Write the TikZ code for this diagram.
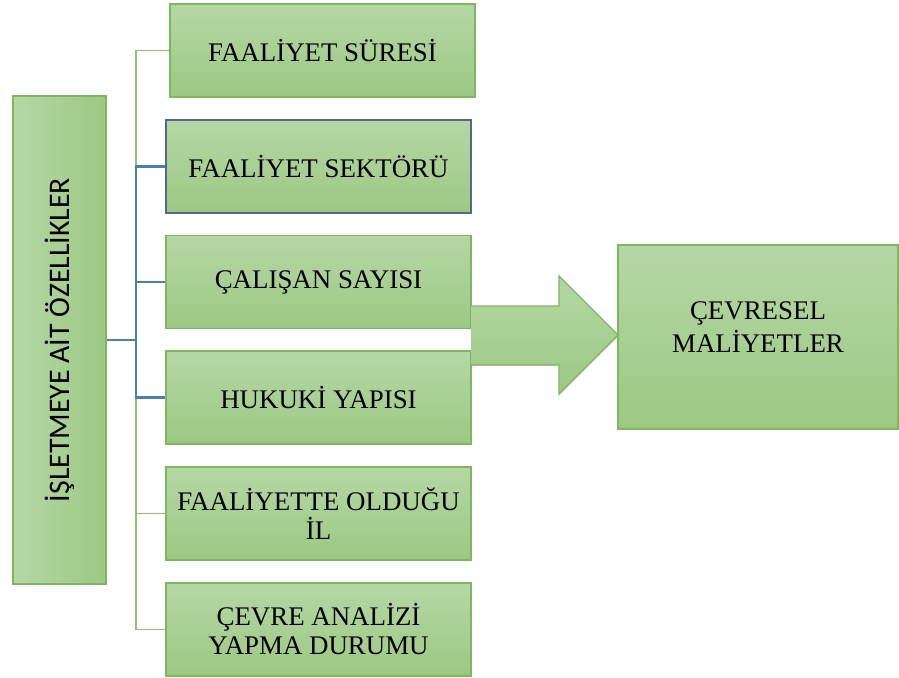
\documentclass[tikz,border=0pt]{standalone}
\usepackage{fontspec}
\setmainfont{Liberation Serif}
\newfontfamily\calfont{Carlito}
\usepackage{tikz}
\usetikzlibrary{positioning}

\definecolor{boxtop}{HTML}{B5D7A6}
\definecolor{boxbot}{HTML}{9CC883}
\definecolor{boxline}{HTML}{7DB85E}
\definecolor{slateline}{HTML}{56688A}
\definecolor{linkblue}{HTML}{4A7EBB}
\definecolor{linkgreen}{HTML}{8CC46C}

\begin{document}
\begin{tikzpicture}[x=0.02cm, y=-0.02cm,
  item/.style={draw=boxline, line width=0.8pt, top color=boxtop, bottom color=boxbot, minimum width=6.1cm, minimum height=1.86cm, align=center, font=\fontsize{15.3}{16.5}\selectfont},
  glink/.style={draw=linkgreen, line width=0.9pt},
  blink/.style={draw=linkblue, line width=1.3pt}
]
\useasboundingbox (0,0) rectangle (899,677);

% main box
\node[draw=boxline, line width=0.8pt, left color=boxtop, right color=boxbot, minimum width=1.86cm, minimum height=9.76cm] (firm) at (59.5,340) {};
\node[rotate=90, font=\calfont\fontsize{17}{20}\selectfont] (firmtext) at (firm.center) {İŞLETMEYE AİT ÖZELLİKLER};

% features
\node[item] (sure) at (322.5,50.5) {FAALİYET SÜRESİ};
\node[item, draw=slateline] (sektor) at (318.5,166.5) {FAALİYET SEKTÖRÜ};
\node[item] (calisan) at (318.5,282) {ÇALIŞAN SAYISI};
\node[item] (hukuk) at (318.5,397.5) {HUKUKİ YAPISI};
\node[item] (il) at (318.5,513.5) {FAALİYETTE OLDUĞU\\İL};
\node[item] (analiz) at (318.5,629.5) {ÇEVRE ANALİZİ\\YAPMA DURUMU};

% connectors
\coordinate (trunk) at (136,340);
\draw[glink] (sure.west) -| (trunk) |- (analiz.west);
\draw[glink] (trunk |- il.west) -- (il.west);
\draw[blink] (firm.east) -- (trunk);
\draw[blink] (sektor.west) -| (trunk) |- (hukuk.west);
\draw[blink] (trunk |- calisan.west) -- (calisan.west);

% block arrow
\fill[top color=boxtop, bottom color=boxbot] (471,306) -- (559,306) -- (559,276) -- (618,335) -- (559,394) -- (559,365) -- (471,365) -- cycle;
\draw[boxline, line width=0.8pt] (471,306) -- (559,306) -- (559,276) -- (618,335) -- (559,394) -- (559,365) -- (471,365);

% result
\node[draw=boxline, line width=0.8pt, top color=boxtop, bottom color=boxbot, minimum width=5.6cm, minimum height=3.68cm] (cost) at (758,337) {};
\node[align=center, font=\fontsize{15.3}{19}\selectfont] (costtext) at ([yshift=0.2cm]cost.center) {ÇEVRESEL\\MALİYETLER};
\end{tikzpicture}
\end{document}
